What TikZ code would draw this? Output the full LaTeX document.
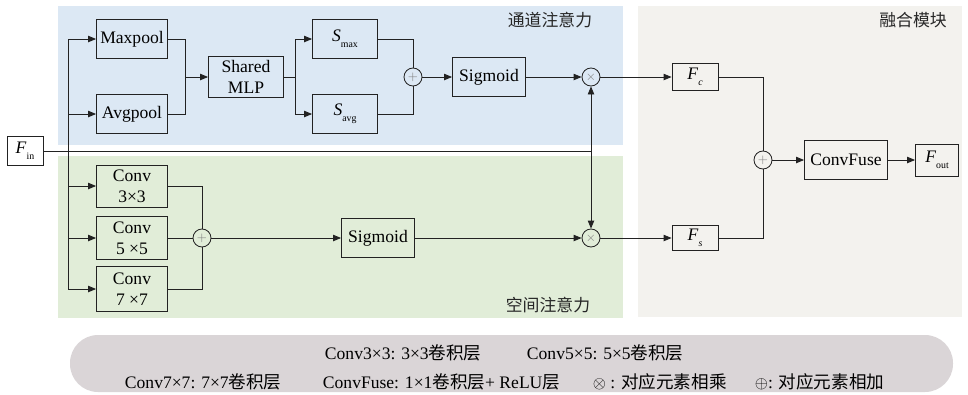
\documentclass[tikz,border=0pt]{standalone}
\usepackage{fontspec}
\setmainfont{Liberation Serif}
\newfontfamily\cjk{Noto Sans CJK SC}
\usetikzlibrary{arrows.meta}
\definecolor{bluebg}{HTML}{DCE8F4}
\definecolor{greenbg}{HTML}{E1EDD8}
\definecolor{beigebg}{HTML}{F3F2EE}
\definecolor{pillbg}{HTML}{DAD5D7}
\definecolor{lncol}{HTML}{222222}
\newcommand\fsb[2]{\textit{F}\raisebox{-0.7ex}{\scriptsize #2}}
\newcommand\ssb[1]{\textit{S}\raisebox{-0.7ex}{\scriptsize #1}}
\begin{document}
\begin{tikzpicture}[x=0.25mm,y=-0.25mm, font=\fontsize{12.5}{15}\selectfont,
 bx/.style 2 args={draw=lncol, line width=0.6pt, minimum width=#1*0.25mm, minimum height=#2*0.25mm, inner sep=0pt, align=center},
 op/.style={draw=lncol, line width=0.6pt, circle, minimum size=4.5mm, inner sep=0pt, text=gray, font=\small},
 wire/.style={draw=lncol, line width=0.6pt},
 arr/.style={wire, -{Triangle[length=2mm,width=1.6mm]}},
 lbl/.style={font=\cjk\fontsize{12}{14}\selectfont, text=black!85}]
\useasboundingbox (0,0) rectangle (968,394);
% regions
\fill[bluebg] (58,6) rectangle (623,145);
\fill[greenbg] (58,156) rectangle (623,318);
\fill[beigebg] (638,6) rectangle (962,317);
\fill[pillbg, rounded corners=7mm] (70,335) rectangle (953,392);
% region labels
\node[lbl] (tch) at (550,20) {通道注意力};
\node[lbl] (tfu) at (913,20) {融合模块};
\node[lbl] (tsp) at (548,305) {空间注意力};
% nodes
\node[bx={36}{29}, fill=white] (fin) at (25,151) {\fsb{F}{in}};
\node[bx={71}{39}] (maxp) at (132,39) {Maxpool};
\node[bx={71}{39}] (avgp) at (132,114) {Avgpool};
\node[bx={75}{41}] (mlp) at (246,77) {Shared\\MLP};
\node[bx={65}{39}] (smax) at (345,39) {\ssb{max}};
\node[bx={65}{39}] (savg) at (345,114) {\ssb{avg}};
\node[op] (p1) at (413,77) {$+$};
\node[bx={73}{39}] (sig1) at (489,77) {Sigmoid};
\node[op] (mt) at (591,77) {$\times$};
\node[bx={46}{27}] (fc) at (695,77) {\fsb{F}{\textit{c}}};
\node[op] (p2) at (763,160) {$+$};
\node[bx={83}{39}] (cf) at (846,160) {ConvFuse};
\node[bx={43}{32}] (fout) at (937,160) {\fsb{F}{out}};
\node[bx={46}{25}] (fs) at (695,238) {\fsb{F}{\textit{s}}};
\node[op] (mb) at (591,238) {$\times$};
\node[bx={73}{39}] (sig2) at (378,238) {Sigmoid};
\node[bx={71}{42}] (c3) at (132,186) {Conv\\3×3};
\node[bx={71}{43}] (c5) at (132,238) {Conv\\5 ×5};
\node[bx={71}{45}] (c7) at (132,289) {Conv\\7 ×7};
\node[op] (p3) at (202,238) {$+$};
% connectors
\coordinate (jn) at (591,151);
\coordinate (br) at (68,151);
\coordinate (m1) at (185,77);
\coordinate (b2) at (295,77);
\draw[wire] (fin.east) -- (jn);
\draw[arr] (jn) -- (mt.south);
\draw[arr] (jn) -- (mb.north);
\draw[arr] (br) |- (maxp.west);
\draw[arr] (br) |- (avgp.west);
\draw[arr] (br) |- (c3.west);
\draw[arr] (br) |- (c5.west);
\draw[arr] (br) |- (c7.west);
\draw[wire] (maxp.east) -| (m1);
\draw[wire] (avgp.east) -| (m1);
\draw[arr] (m1) -- (mlp.west);
\draw[wire] (mlp.east) -- (b2);
\draw[arr] (b2) |- (smax.west);
\draw[arr] (b2) |- (savg.west);
\draw[wire] (smax.east) -| (p1.north);
\draw[wire] (savg.east) -| (p1.south);
\draw[arr] (p1) -- (sig1);
\draw[arr] (sig1) -- (mt);
\draw[arr] (mt) -- (fc);
\draw[wire] (fc.east) -| (p2.north);
\draw[wire] (fs.east) -| (p2.south);
\draw[arr] (p2) -- (cf);
\draw[arr] (cf) -- (fout);
\draw[wire] (c3.east) -| (p3.north);
\draw[wire] (c7.east) -| (p3.south);
\draw[wire] (c5) -- (p3);
\draw[arr] (p3) -- (sig2);
\draw[arr] (sig2) -- (mb);
\draw[arr] (mb) -- (fs);
% legend
\node[anchor=west] (l1) at (320,353) {Conv3×3: 3×3{\cjk 卷积层}};
\node[anchor=west] (l2) at (522,353) {Conv5×5: 5×5{\cjk 卷积层}};
\node[anchor=west] (l3) at (120,382) {Conv7×7: 7×7{\cjk 卷积层}};
\node[anchor=west] (l4) at (318,382) {ConvFuse: 1×1{\cjk 卷积层}+ ReLU{\cjk 层}};
\node[anchor=west] (l5) at (588,382) {$\otimes$ : {\cjk 对应元素相乘}};
\node[anchor=west] (l6) at (750,382) {$\oplus$: {\cjk 对应元素相加}};
\end{tikzpicture}
\end{document}
